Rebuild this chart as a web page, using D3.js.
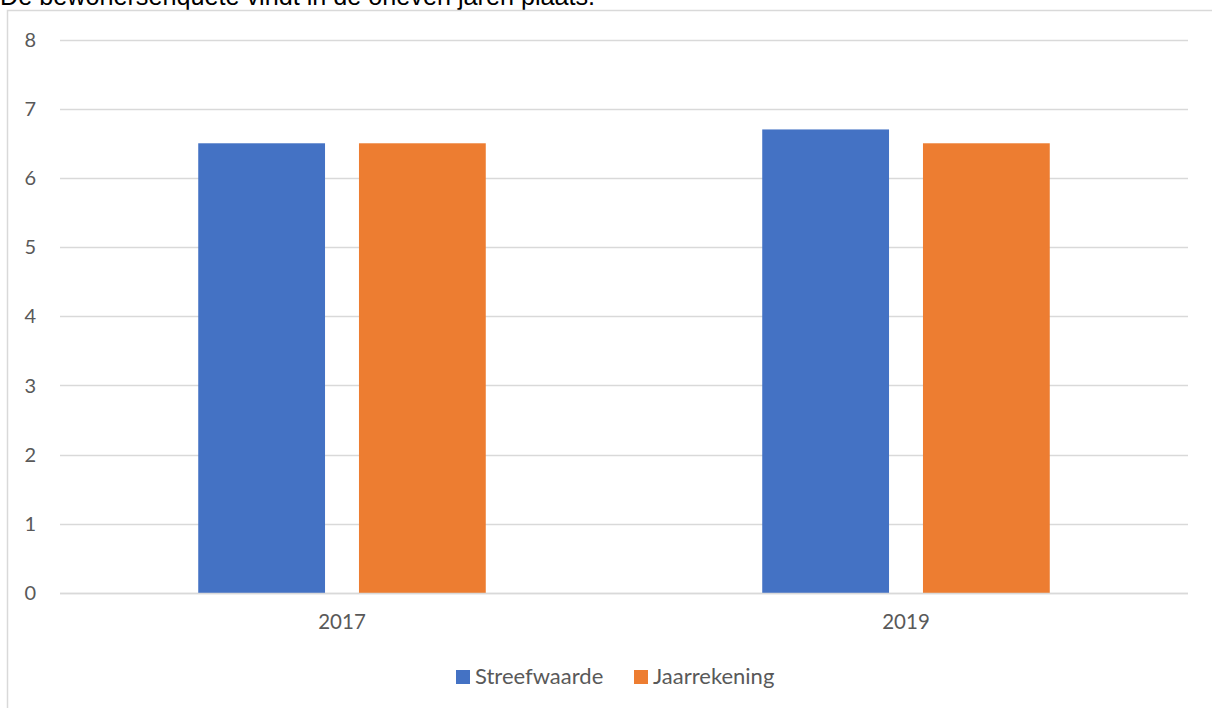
<!DOCTYPE html>
<html>
<head>
<meta charset="utf-8">
<script src="https://cdn.jsdelivr.net/npm/d3@7"></script>
<style>
  html, body { margin: 0; padding: 0; background: #fff; overflow: hidden; }
  svg { display: block; }
</style>
</head>
<body>
<svg id="chart" width="1212" height="708"></svg>
<script>
const categories = ["2017", "2019"];
const seriesNames = ["Streefwaarde", "Jaarrekening"];
const streefwaarde = [6.5, 6.7];
const jaarrekening = [6.5, 6.5];
const yTicks = [0, 1, 2, 3, 4, 5, 6, 7, 8];
const colors = ["#4472C4", "#ED7D31"];
const titleText = "De bewonersenquête vindt in de oneven jaren plaats.";

const seriesValues = [streefwaarde, jaarrekening];
const svg = d3.select("#chart");

// title line (cut at top, as in the reference)
svg.append("text")
  .attr("x", 0).attr("y", 4.5)
  .attr("font-family", "Liberation Sans, Arial, sans-serif")
  .attr("font-size", 25.2)
  .attr("fill", "#000")
  .text(titleText);

// chart area border
svg.append("rect")
  .attr("x", 7.5).attr("y", 10.5)
  .attr("width", 1300).attr("height", 800)
  .attr("fill", "#fff")
  .attr("stroke", "#d9d9d9").attr("stroke-width", 1.5);

const x = d3.scaleBand().domain(categories).range([60, 1188]).paddingInner(0).paddingOuter(0);
const xInner = d3.scaleBand().domain(seriesNames).range([0, x.bandwidth()])
  .paddingInner(34 / 161).paddingOuter(0.86);
const y = d3.scaleLinear().domain([0, 8]).range([593, 39.5]);

const font = "Lato, 'Open Sans', sans-serif";

// gridlines
svg.append("g").selectAll("line").data(yTicks).join("line")
  .attr("x1", 60).attr("x2", 1188)
  .attr("y1", d => Math.round(y(d)) + 0.5).attr("y2", d => Math.round(y(d)) + 0.5)
  .attr("stroke", "#d9d9d9").attr("stroke-width", 1.5);

// y labels
svg.append("g").selectAll("text").data(yTicks).join("text")
  .attr("x", 36).attr("y", d => y(d))
  .attr("dy", "0.36em")
  .attr("text-anchor", "end")
  .attr("font-family", font).attr("font-size", 20)
  .attr("fill", "#595959")
  .text(d => d);

// bars
const groups = svg.append("g").selectAll("g").data(categories).join("g")
  .attr("transform", d => `translate(${x(d)},0)`);
groups.selectAll("rect")
  .data((c, i) => seriesNames.map((s, j) => ({ s, v: seriesValues[j][i], c: colors[j] })))
  .join("rect")
  .attr("x", d => xInner(d.s))
  .attr("width", xInner.bandwidth())
  .attr("y", d => y(d.v))
  .attr("height", d => y(0) - y(d.v))
  .attr("fill", d => d.c);

// baseline on top
svg.append("line")
  .attr("x1", 60).attr("x2", 1188)
  .attr("y1", Math.round(y(0)) + 0.5).attr("y2", Math.round(y(0)) + 0.5)
  .attr("stroke", "#d9d9d9").attr("stroke-width", 1.5);

// x labels
svg.append("g").selectAll("text").data(categories).join("text")
  .attr("x", d => x(d) + x.bandwidth() / 2)
  .attr("y", 629)
  .attr("text-anchor", "middle")
  .attr("font-family", font).attr("font-size", 20.5)
  .attr("fill", "#595959")
  .text(d => d);

// legend
const legendX = [456, 634];
const legend = svg.append("g").selectAll("g").data(seriesNames).join("g")
  .attr("transform", (d, i) => `translate(${legendX[i]},670)`);
legend.append("rect").attr("width", 14).attr("height", 14).attr("fill", (d, i) => colors[i]);
legend.append("text")
  .attr("x", 19).attr("y", 14)
  .attr("font-family", font).attr("font-size", 22)
  .attr("fill", "#595959")
  .text(d => d);
</script>
</body>
</html>
